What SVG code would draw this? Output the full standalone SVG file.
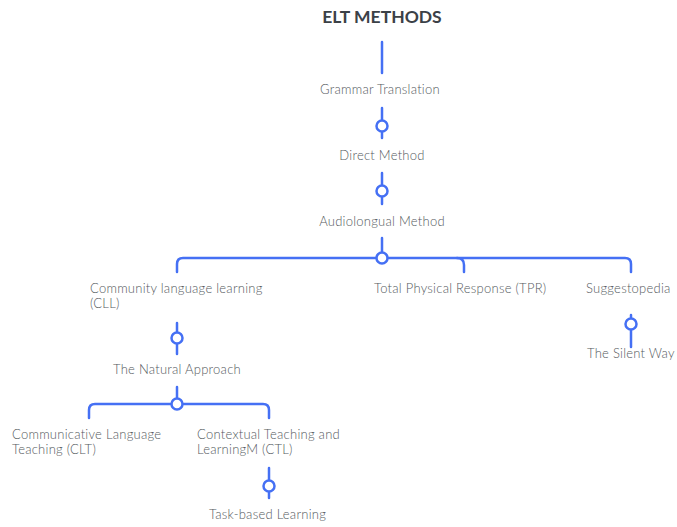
<svg xmlns="http://www.w3.org/2000/svg" width="677" height="527" viewBox="0 0 677 527">
<style>
.t{font-family:Lato,"Liberation Sans",sans-serif;font-size:13px;font-weight:300;letter-spacing:0.25px;fill:#555a5e}
.c{text-anchor:middle}
.ttl{font-family:Lato,"Liberation Sans",sans-serif;font-size:17.5px;font-weight:bold;fill:#3b4147;text-anchor:middle}
.ln{fill:none;stroke:#4570f4;stroke-width:2.5;stroke-linecap:round}
.dot{fill:#fff;stroke:#4570f4;stroke-width:2.5}
</style>
<rect width="677" height="527" fill="#fff"/>
<g id="connectors">
<path class="ln" d="M382 42V73"/>
<path class="ln" d="M382 108V138"/><circle class="dot" cx="382" cy="126" r="5.5"/>
<path class="ln" d="M382 173V204"/><circle class="dot" cx="382" cy="191" r="5.5"/>
<path class="ln" d="M382 238V258"/>
<path class="ln" d="M177 272V264Q177 258 183 258H625Q631 258 631 264V272"/>
<path class="ln" d="M457 258Q464 258 464 265V272"/>
<circle class="dot" cx="382" cy="258" r="5.5"/>
<path class="ln" d="M177 323V354"/><circle class="dot" cx="177" cy="338" r="5.5"/>
<path class="ln" d="M631 315V347"/><circle class="dot" cx="631" cy="324" r="5.5"/>
<path class="ln" d="M177 387V404"/>
<path class="ln" d="M89 418V410Q89 404 95 404H263Q269 404 269 410V418"/>
<circle class="dot" cx="177" cy="404" r="5.5"/>
<path class="ln" d="M269 468V498"/><circle class="dot" cx="269" cy="486" r="5.5"/>
</g>
<g id="title"><text class="ttl" x="382" y="23">ELT METHODS</text></g>
<g id="n-grammar"><text class="t c" x="380" y="94">Grammar Translation</text></g>
<g id="n-direct"><text class="t c" x="382" y="160">Direct Method</text></g>
<g id="n-audio"><text class="t c" x="382" y="226">Audiolongual Method</text></g>
<g id="n-cll"><text class="t" x="90" y="293">Community language learning</text><text class="t" x="90" y="308">(CLL)</text></g>
<g id="n-tpr"><text class="t" x="374" y="293">Total Physical Response (TPR)</text></g>
<g id="n-sugg"><text class="t" x="586" y="293">Suggestopedia</text></g>
<g id="n-silent"><text class="t" x="587" y="358">The Silent Way</text></g>
<g id="n-natural"><text class="t c" x="177" y="374">The Natural Approach</text></g>
<g id="n-clt"><text class="t" x="12" y="439">Communicative Language</text><text class="t" x="12" y="454">Teaching (CLT)</text></g>
<g id="n-ctl"><text class="t" x="197" y="439">Contextual Teaching and</text><text class="t" x="197" y="454">LearningM (CTL)</text></g>
<g id="n-task"><text class="t" x="209" y="519">Task-based Learning</text></g>
</svg>
